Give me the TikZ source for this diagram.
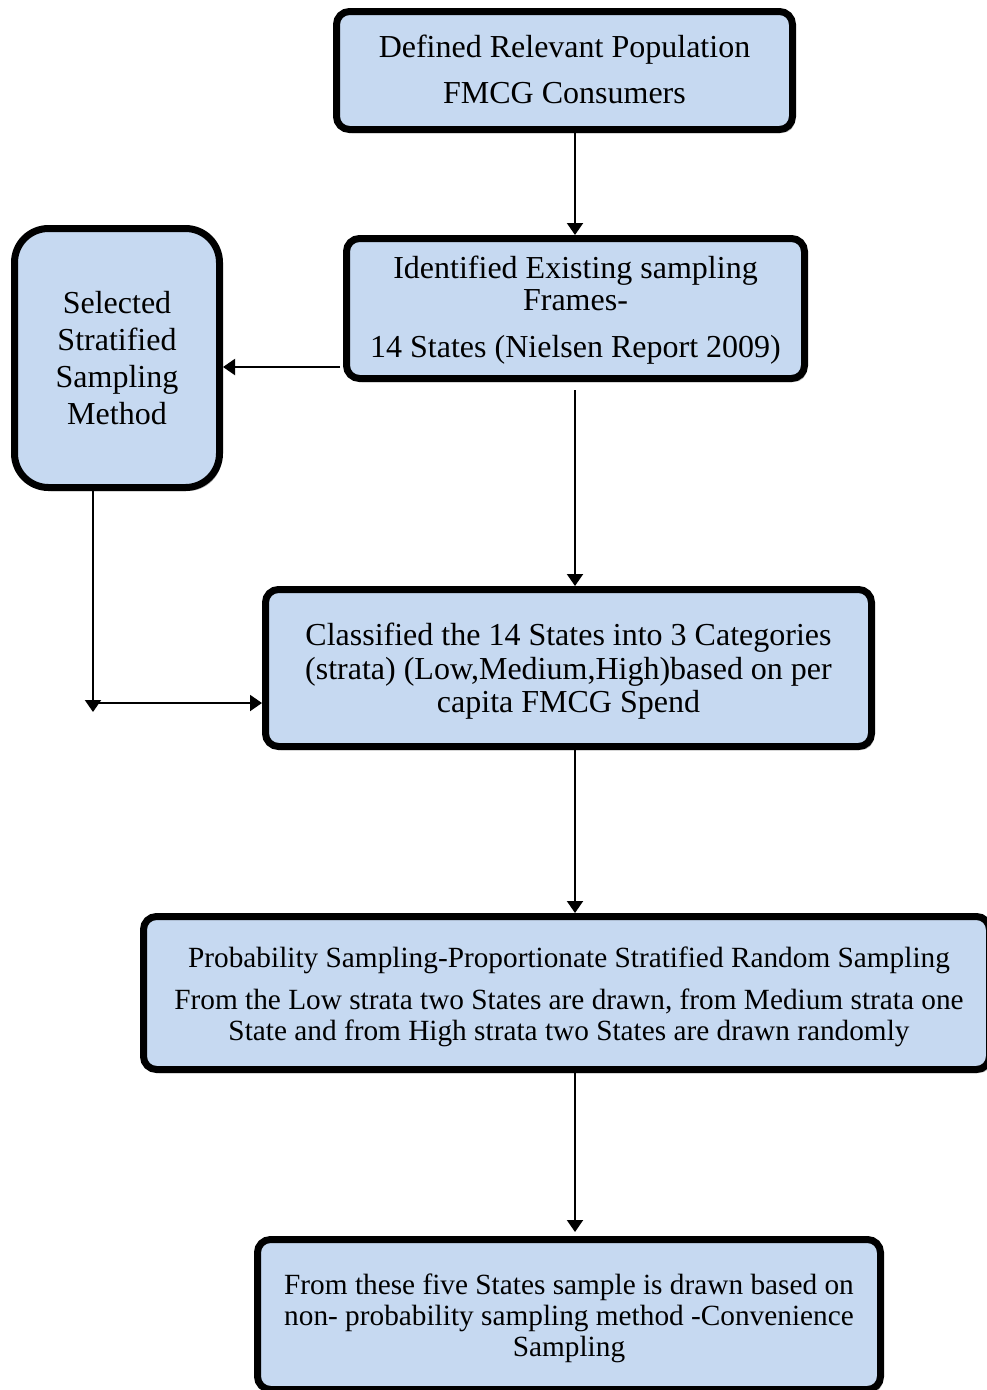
\documentclass[tikz,border=0pt]{standalone}
\usepackage{fontspec}
\setmainfont{Liberation Serif}
\usetikzlibrary{arrows.meta,shadows}
\definecolor{boxfill}{RGB}{198,217,241}
\tikzset{
  flowbox/.style={draw=black, line width=7pt, fill=boxfill, rounded corners=13pt,
    inner sep=0pt,
    drop shadow={shadow xshift=2.5pt, shadow yshift=-3.5pt, fill=black, opacity=0.3}},
  boxtext/.style={align=center, inner sep=0pt},
  link/.style={line width=2pt, -{Triangle[length=12pt,width=16pt]}},
  big/.style={font=\fontsize{32}{33.5}\selectfont},
  mid/.style={font=\fontsize{29.3}{31}\selectfont}
}
\begin{document}
\begin{tikzpicture}[x=1pt,y=-1pt]
\clip (0,0) rectangle (987,1390);
\fill[white] (0,0) rectangle (987,1390);

% process boxes
\node[flowbox, minimum width=456pt, minimum height=118pt] (pop) at (564.5,70.5) {};
\node[flowbox, minimum width=458pt, minimum height=140pt] (frame) at (575.5,308.5) {};
\node[flowbox, rounded corners=34pt, minimum width=205pt, minimum height=259pt] (strat) at (117,358) {};
\node[flowbox, minimum width=606pt, minimum height=157pt] (cls) at (568.5,668) {};
\node[flowbox, minimum width=846pt, minimum height=153pt] (prob) at (566.5,993) {};
\node[flowbox, minimum width=623pt, minimum height=150pt] (conv) at (569,1314.5) {};

% box texts
\node[boxtext, font=\fontsize{32}{46}\selectfont] (pop-t) at ([yshift=1pt]pop.center)
  {Defined Relevant Population\\FMCG Consumers};
\node[boxtext, font=\fontsize{32}{32}\selectfont] (frame-t) at ([yshift=-1.5pt]frame.center)
  {Identified Existing sampling\\Frames-\\[15pt]14 States (Nielsen Report 2009)};
\node[boxtext, font=\fontsize{32}{37}\selectfont] (strat-t) at (strat.center)
  {Selected\\Stratified\\Sampling\\Method};
\node[boxtext, big] (cls-t) at ([yshift=-3.5pt]cls.center)
  {Classified the 14 States into 3 Categories\\(strata) (Low,Medium,High)based on per\\capita FMCG Spend};
\node[boxtext, mid] (prob-t) at ([xshift=2.5pt,yshift=-4pt]prob.center)
  {Probability Sampling-Proportionate Stratified Random Sampling\\[11pt]From the Low strata two States are drawn, from Medium strata one\\State and from High strata two States are drawn randomly};
\node[boxtext, mid] (conv-t) at ([yshift=-3.5pt]conv.center)
  {From these five States sample is drawn based on\\non- probability sampling method -Convenience\\Sampling};

% connectors
\coordinate (spine) at (575,0);
\coordinate (turn) at (93,703);
\draw[link] (pop.south -| spine) -- (frame.north -| spine);
\draw[link] ([xshift=-3pt]frame.west |- 0,367) -- (strat.east |- 0,367);
\draw[link] ([yshift=-8pt]frame.south -| spine) -- (cls.north -| spine);
\draw[link] (strat.south -| turn) -- ([yshift=-9pt]turn);
\draw[link] (turn) -- (cls.west |- turn);
\draw[link] (cls.south -| spine) -- (prob.north -| spine);
\draw[link] (prob.south -| spine) -- ([yshift=4pt]conv.north -| spine);
\end{tikzpicture}
\end{document}
